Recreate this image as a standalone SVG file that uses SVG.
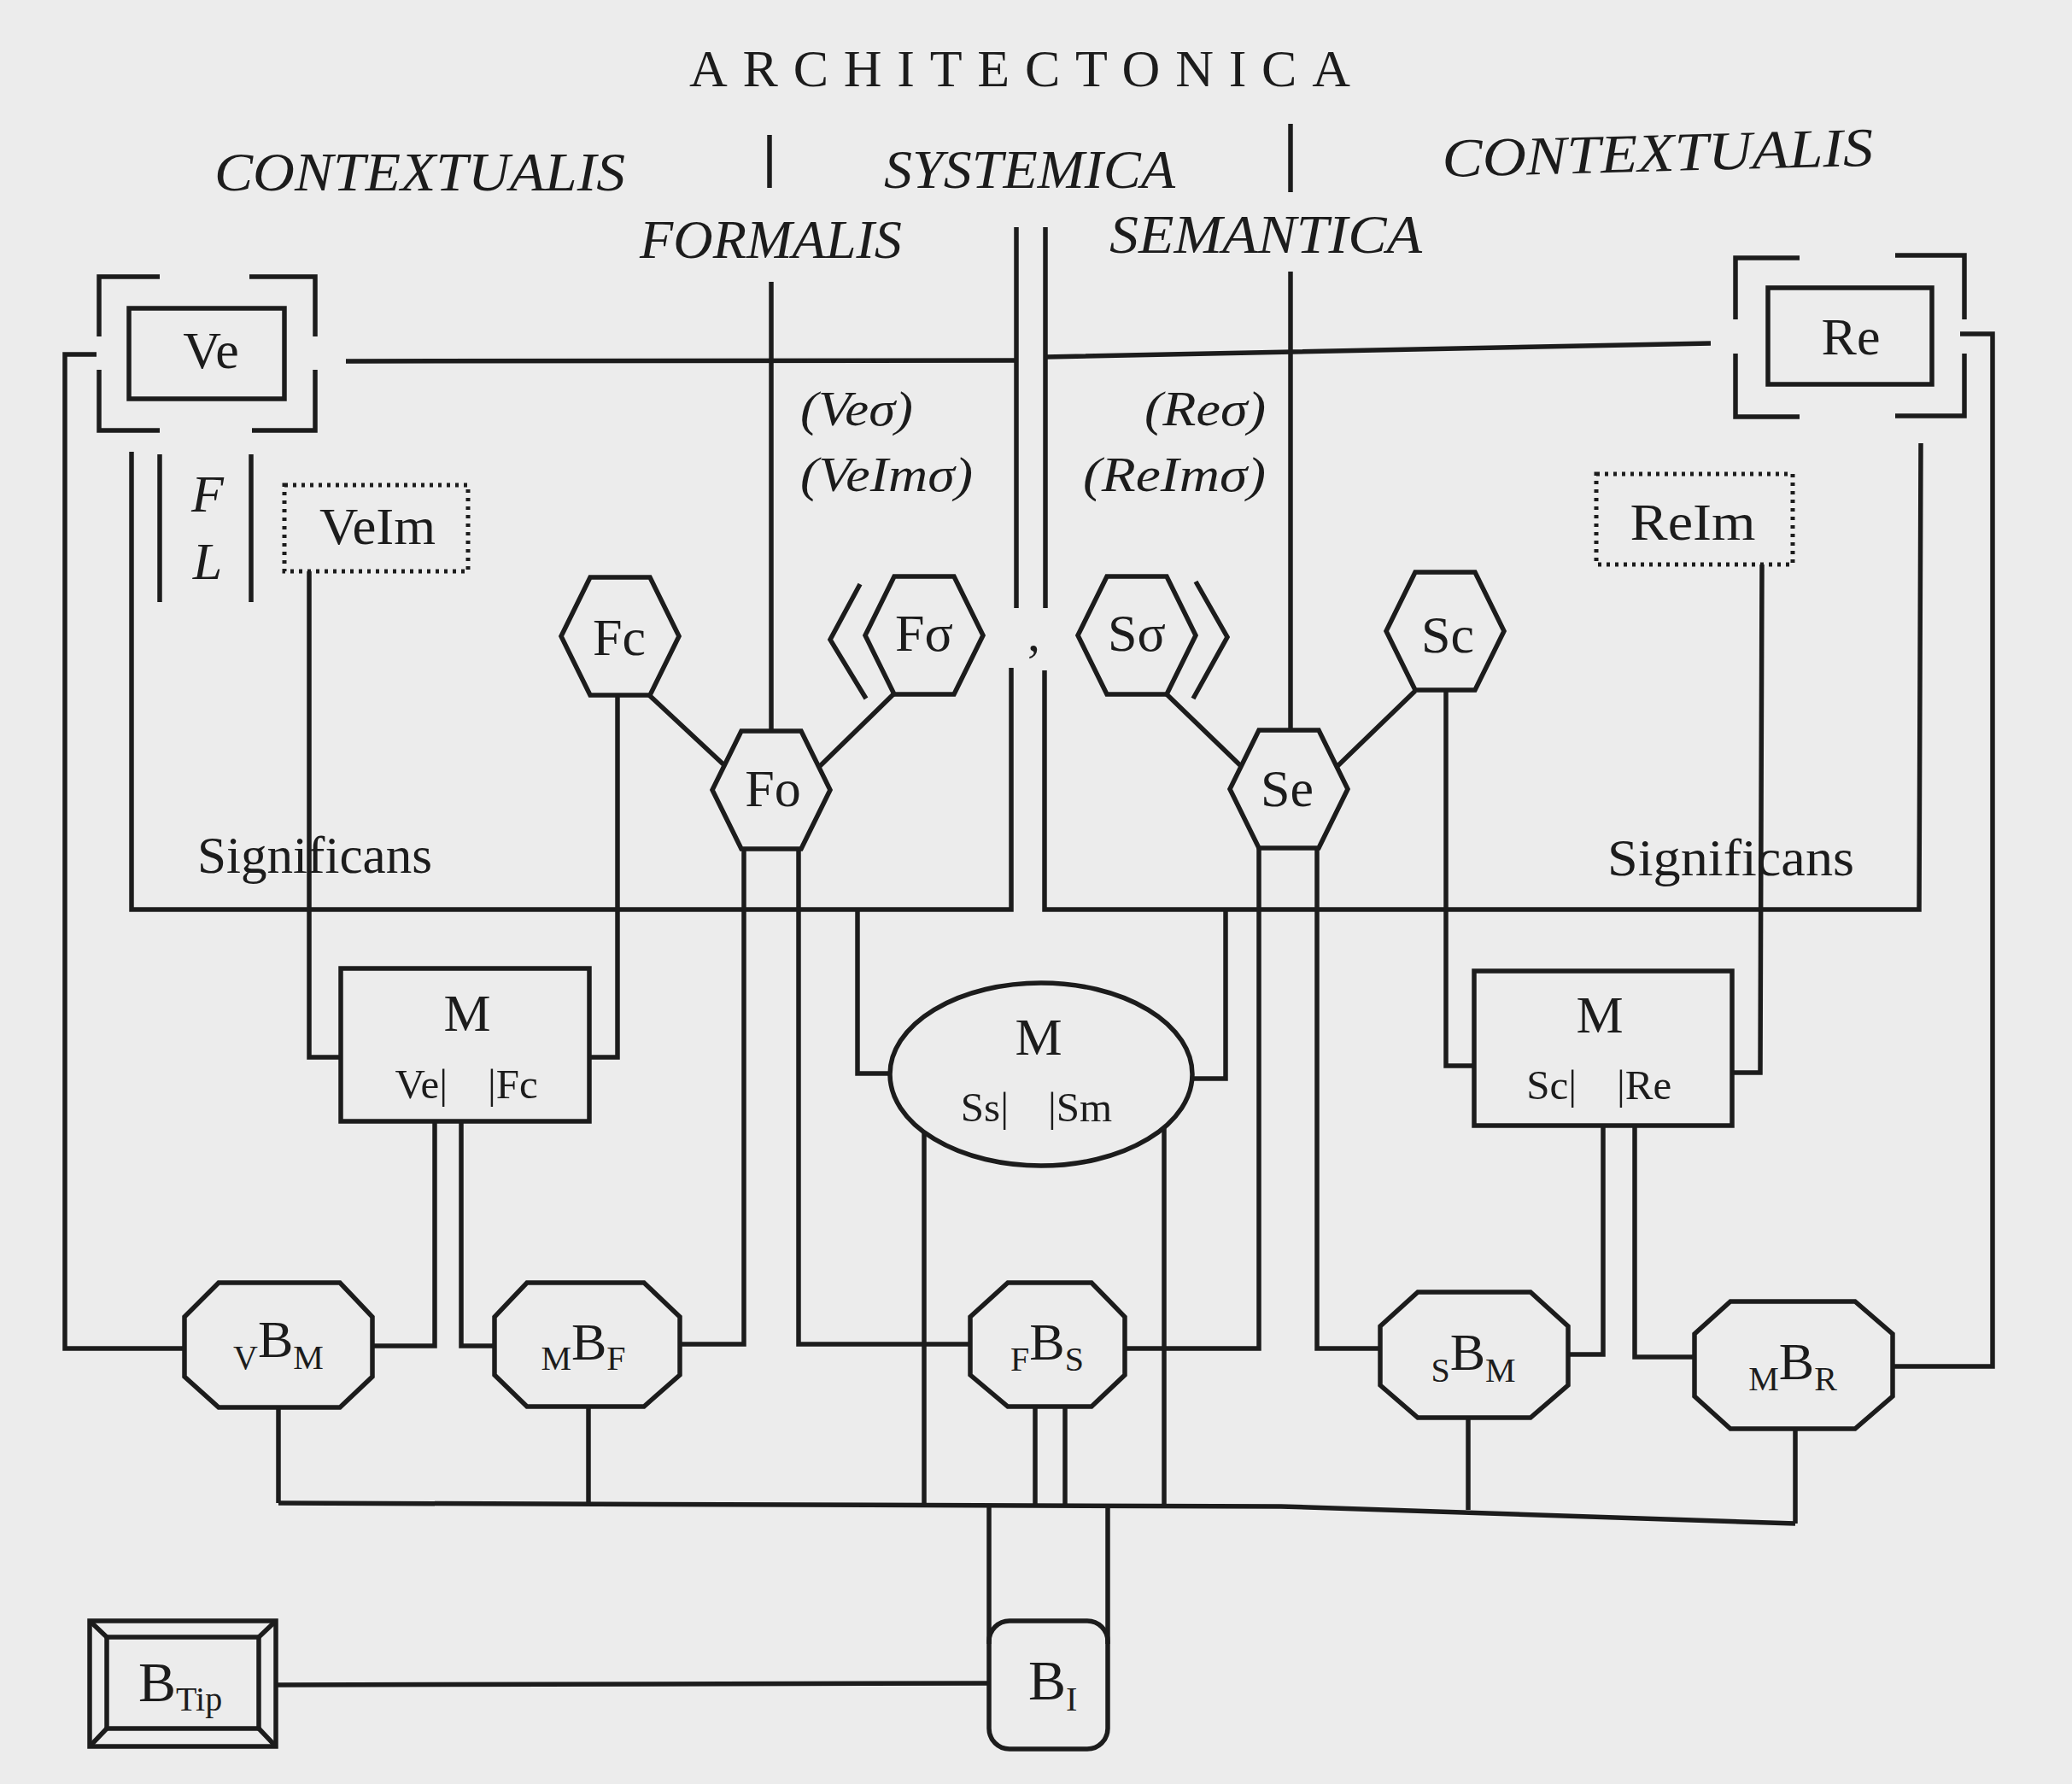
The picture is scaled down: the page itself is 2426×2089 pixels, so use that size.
<svg xmlns="http://www.w3.org/2000/svg" xmlns:xlink="http://www.w3.org/1999/xlink" width="2426" height="2089" viewBox="0 0 2426 2089">
<style>
.ln{fill:none;stroke:#1c1c1c;stroke-width:5.5;stroke-linejoin:miter;stroke-linecap:butt}
.nd{fill:none;stroke:#1c1c1c;stroke-width:5.5}
.dot{fill:none;stroke:#1c1c1c;stroke-width:5;stroke-dasharray:4 6}
.t{font-family:"Liberation Serif","Times New Roman",serif;fill:#1c1c1c}
.it{font-family:"Liberation Serif","Times New Roman",serif;font-style:italic;fill:#1c1c1c}
.lab{font-size:62px;text-anchor:middle}
.sm{font-size:49px}
.hd{font-size:64px}
</style>
<defs>
<path id="hex" d="M-35,-69 L35,-69 L69,0 L35,69 L-35,69 L-69,0 Z"/>
</defs>
<rect x="0" y="0" width="2426" height="2089" fill="#ececec"/>

<g id="titles">
<text class="t" x="807" y="101" font-size="62" textLength="774" lengthAdjust="spacing">ARCHITECTONICA</text>
<text class="it hd" x="251" y="223" textLength="481" lengthAdjust="spacingAndGlyphs">CONTEXTUALIS</text>
<text class="it hd" x="1035" y="220" textLength="341" lengthAdjust="spacingAndGlyphs">SYSTEMICA</text>
<text class="it hd" x="1689" y="207" textLength="505" lengthAdjust="spacingAndGlyphs" transform="rotate(-1.5 1689 207)">CONTEXTUALIS</text>
<text class="it hd" x="749" y="302" textLength="307" lengthAdjust="spacingAndGlyphs">FORMALIS</text>
<text class="it hd" x="1299" y="296" textLength="366" lengthAdjust="spacingAndGlyphs">SEMANTICA</text>
<text class="it" x="937" y="498" font-size="56" textLength="132" lengthAdjust="spacingAndGlyphs">(Veσ)</text>
<text class="it" x="937" y="575" font-size="56" textLength="202" lengthAdjust="spacingAndGlyphs">(VeImσ)</text>
<text class="it" x="1340" y="498" font-size="56" textLength="142" lengthAdjust="spacingAndGlyphs">(Reσ)</text>
<text class="it" x="1268" y="575" font-size="56" textLength="214" lengthAdjust="spacingAndGlyphs">(ReImσ)</text>
<text class="t" x="1203" y="762" font-size="60">,</text>
</g>

<g id="connectors">
<path class="ln" d="M901,158 V220 M1511,145 V225"/>
<path class="ln" d="M903,330 V855 M1190,266 V712 M1224,266 V712 M1511,318 V855"/>
<path class="ln" d="M405,423 L1190,422 M1224,418 L2003,402"/>
<path class="ln" d="M1184,782 V1065 H154 V529"/>
<path class="ln" d="M1223,785 V1065 H2247 L2249,519"/>
<path class="ln" d="M113,415 H76 V1579 H216"/>
<path class="ln" d="M187,532 V705 M294,532 V705"/>
<path class="ln" d="M362,669 V1238 H399"/>
<path class="ln" d="M723,813 V1238 H690"/>
<path class="ln" d="M2295,391 H2333 V1600 H2216"/>
<path class="ln" d="M2063,661 L2061,1256 H2028"/>
<path class="ln" d="M1693,809 V1248 H1726"/>
<path class="ln" d="M759,813 L848,896 M1047,812 L959,898 M1366,813 L1454,898 M1657,809 L1565,898"/>
<path class="ln" d="M1007,684 L972,749 L1014,818 M1400,681 L1437,746 L1397,818"/>
<path class="ln" d="M871,994 V1574 H796 M935,994 V1574 H1136"/>
<path class="ln" d="M1474,992 V1579 H1317 M1542,992 V1579 H1614"/>
<path class="ln" d="M509,1313 V1576 H436 M540,1313 V1576 H579"/>
<path class="ln" d="M1004,1065 V1257 H1042 M1435,1065 V1263 H1396"/>
<path class="ln" d="M1082,1326 V1761 M1363,1320 V1763"/>
<path class="ln" d="M1877,1317 V1586 H1836 M1914,1317 V1589 H1984"/>
<path class="ln" d="M326,1648 V1760 M689,1647 V1761 M1212,1647 V1762 M1247,1647 V1762 M1719,1660 V1768 M2102,1673 V1784"/>
<path class="ln" d="M326,1760 L1500,1764 L2102,1784"/>
<path class="ln" d="M1158,1761 V1925 M1297,1763 V1925"/>
<path class="ln" d="M323,1973 L1158,1971"/>
</g>

<g id="Ve">
<path class="nd" d="M187,324 H116 V394 M292,324 H369 V394 M116,433 V504 H187 M295,504 H369 V433"/>
<rect class="nd" x="151" y="361" width="182" height="106"/>
<text class="t lab" x="247" y="431" font-size="64">Ve</text>
</g>
<g id="FL">
<text class="it lab" x="243" y="599">F</text>
<text class="it lab" x="243" y="678">L</text>
</g>
<g id="VeIm">
<rect class="dot" x="333" y="568" width="215" height="101"/>
<text class="t lab" x="442" y="637" textLength="136" lengthAdjust="spacingAndGlyphs">VeIm</text>
</g>
<g id="Re">
<path class="nd" d="M2107,302 H2032 V374 M2219,299 H2300 V374 M2032,414 V488 H2107 M2219,487 H2300 V414"/>
<rect class="nd" x="2070" y="337" width="192" height="113"/>
<text class="t lab" x="2167" y="415" font-size="64">Re</text>
</g>
<g id="ReIm">
<rect class="dot" x="1869" y="555" width="230" height="106"/>
<text class="t lab" x="1982" y="632" textLength="147" lengthAdjust="spacingAndGlyphs">ReIm</text>
</g>
<g id="SignificansL"><text class="t" x="231" y="1022" font-size="61" textLength="275" lengthAdjust="spacingAndGlyphs">Significans</text></g>
<g id="SignificansR"><text class="t" x="1882" y="1025" font-size="62" textLength="289" lengthAdjust="spacingAndGlyphs">Significans</text></g>

<g id="Fc"><use xlink:href="#hex" href="#hex" class="nd" x="726" y="745"/><text class="t lab" x="725" y="767">Fc</text></g>
<g id="Fsigma"><use xlink:href="#hex" href="#hex" class="nd" x="1082" y="744"/><text class="t lab" x="1082" y="762">Fσ</text></g>
<g id="Fo"><use xlink:href="#hex" href="#hex" class="nd" x="903" y="925"/><text class="t lab" x="905" y="944">Fo</text></g>
<g id="Ssigma"><use xlink:href="#hex" href="#hex" class="nd" x="1331" y="744"/><text class="t lab" x="1331" y="762">Sσ</text></g>
<g id="Se"><use xlink:href="#hex" href="#hex" class="nd" x="1509" y="924"/><text class="t lab" x="1507" y="944">Se</text></g>
<g id="Sc"><use xlink:href="#hex" href="#hex" class="nd" x="1692" y="739"/><text class="t lab" x="1695" y="764">Sc</text></g>

<g id="M_left">
<rect class="nd" x="399" y="1134" width="291" height="179"/>
<text class="t lab" x="547" y="1207" font-size="62">M</text>
<text class="t sm" x="524" y="1286" text-anchor="end">Ve|</text>
<text class="t sm" x="571" y="1286">|Fc</text>
</g>
<g id="M_center">
<ellipse class="nd" cx="1219" cy="1258" rx="177" ry="107"/>
<text class="t lab" x="1216" y="1235" font-size="62">M</text>
<text class="t sm" x="1181" y="1313" text-anchor="end">Ss|</text>
<text class="t sm" x="1227" y="1313">|Sm</text>
</g>
<g id="M_right">
<rect class="nd" x="1726" y="1137" width="302" height="181"/>
<text class="t lab" x="1873" y="1209" font-size="62">M</text>
<text class="t sm" x="1846" y="1287" text-anchor="end">Sc|</text>
<text class="t sm" x="1893" y="1287">|Re</text>
</g>

<g id="VBM">
<polygon class="nd" points="256,1502 398,1502 436,1542 436,1612 398,1648 256,1648 216,1612 216,1542"/>
<text class="t" x="326" y="1603" text-anchor="middle"><tspan font-size="40">V</tspan><tspan font-size="62" dy="-14">B</tspan><tspan font-size="40" dy="14">M</tspan></text>
</g>
<g id="MBF">
<polygon class="nd" points="617,1502 754,1502 796,1542 796,1610 754,1647 617,1647 579,1610 579,1542"/>
<text class="t" x="683" y="1604" text-anchor="middle"><tspan font-size="40">M</tspan><tspan font-size="62" dy="-12">B</tspan><tspan font-size="40" dy="12">F</tspan></text>
</g>
<g id="FBS">
<polygon class="nd" points="1180,1502 1278,1502 1317,1542 1317,1610 1278,1647 1180,1647 1136,1610 1136,1542"/>
<text class="t" x="1226" y="1605" text-anchor="middle"><tspan font-size="40">F</tspan><tspan font-size="62" dy="-13">B</tspan><tspan font-size="40" dy="13">S</tspan></text>
</g>
<g id="SBM">
<polygon class="nd" points="1660,1513 1792,1513 1836,1553 1836,1622 1792,1660 1660,1660 1616,1622 1616,1553"/>
<text class="t" x="1725" y="1618" text-anchor="middle"><tspan font-size="40">S</tspan><tspan font-size="62" dy="-14">B</tspan><tspan font-size="40" dy="14">M</tspan></text>
</g>
<g id="MBR">
<polygon class="nd" points="2026,1524 2172,1524 2216,1562 2216,1635 2172,1673 2026,1673 1984,1635 1984,1562"/>
<text class="t" x="2099" y="1628" text-anchor="middle"><tspan font-size="40">M</tspan><tspan font-size="62" dy="-13">B</tspan><tspan font-size="40" dy="13">R</tspan></text>
</g>

<g id="BI">
<rect class="nd" x="1158" y="1898" width="139" height="150" rx="24"/>
<text class="t" x="1204" y="1990"><tspan font-size="66">B</tspan><tspan font-size="40" dy="13">I</tspan></text>
</g>
<g id="BTip">
<rect class="nd" x="105" y="1898" width="218" height="147"/>
<rect class="nd" x="125" y="1917" width="178" height="107"/>
<path class="nd" d="M105,1898 L125,1917 M323,1898 L303,1917 M105,2045 L125,2024 M323,2045 L303,2024"/>
<text class="t" x="162" y="1992"><tspan font-size="66">B</tspan><tspan font-size="40" dy="11">Tip</tspan></text>
</g>
</svg>
